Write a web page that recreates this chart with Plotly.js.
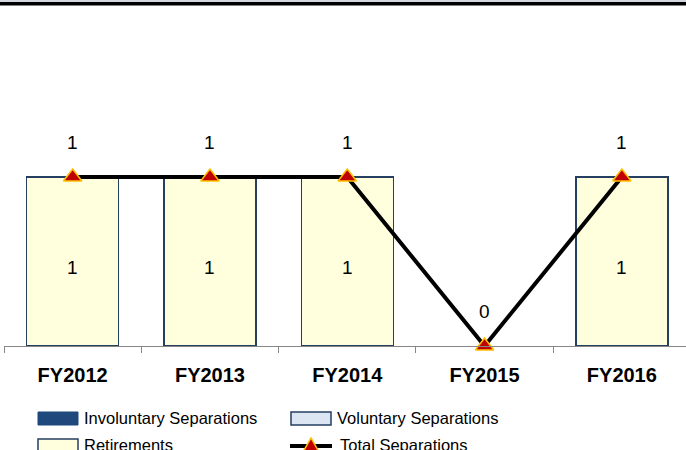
<!DOCTYPE html>
<html>
<head>
<meta charset="utf-8">
<script src="https://cdn.plot.ly/plotly-3.0.1.min.js"></script>
<style>html,body{margin:0;padding:0;background:#fff;}#chart{width:686px;height:450px;}</style>
</head>
<body>
<div id="chart"></div>
<script>
// ---- data ----
var categories = ["FY2012", "FY2013", "FY2014", "FY2015", "FY2016"];
var involuntary = [0, 0, 0, 0, 0];
var voluntary = [0, 0, 0, 0, 0];
var retirements = [1, 1, 1, 0, 1];
var totals = [1, 1, 1, 0, 1];
var seriesNames = ["Involuntary Separations", "Voluntary Separations", "Retirements", "Total Separations"];

// ---- geometry helpers (pixel -> paper) ----
var W = 686, H = 450;
var mL = 4, mR = 0, mT = 143, mB = 104;
var pw = W - mL - mR, ph = H - mT - mB;
function px(x) { return (x - mL) / pw; }
function py(y) { return (H - mB - y) / ph; }

var edge = "#243F60";
function edgeWidths(vals) { return vals.map(function (v) { return v > 0 ? 1.5 : 0; }); }
var traces = [
  {type: "bar", name: seriesNames[0], x: categories, y: involuntary,
   marker: {color: "#1F497D", line: {color: edge, width: edgeWidths(involuntary)}}, width: 0.67, hoverinfo: "y"},
  {type: "bar", name: seriesNames[1], x: categories, y: voluntary,
   marker: {color: "#DCE6F2", line: {color: edge, width: edgeWidths(voluntary)}}, width: 0.67, hoverinfo: "y"},
  {type: "bar", name: seriesNames[2], x: categories, y: retirements,
   marker: {color: "#FFFFDD", line: {color: edge, width: edgeWidths(retirements)}}, width: 0.67, hoverinfo: "y"},
  {type: "scatter", mode: "lines+markers", name: seriesNames[3], x: categories, y: totals,
   line: {color: "#000000", width: 4},
   marker: {symbol: "triangle-up", size: 16, color: "#C00000", line: {color: "#FFC000", width: 1.5}},
   cliponaxis: false}
];

var lblFont = {family: "Liberation Sans, Arial, sans-serif", size: 19, color: "#000"};
var annotations = [];
categories.forEach(function (c, i) {
  annotations.push({x: c, y: totals[i], xref: "x", yref: "y", text: String(totals[i]),
    showarrow: false, yshift: 35, font: lblFont});
  if (retirements[i] > 0) {
    annotations.push({x: c, y: involuntary[i] + voluntary[i] + retirements[i] / 2, xref: "x", yref: "y",
      text: String(retirements[i]), showarrow: false, yshift: -6, font: lblFont});
  }
});

// manual legend
var legFont = {family: "Liberation Sans, Arial, sans-serif", size: 16.5, color: "#000"};
var shapes = [
  {type: "rect", xref: "paper", yref: "paper", x0: px(0), x1: px(W), y0: py(0), y1: py(2), fillcolor: "#D3D6DE", line: {width: 0}},
  {type: "rect", xref: "paper", yref: "paper", x0: px(0), x1: px(W), y0: py(2), y1: py(5.5), fillcolor: "#000", line: {width: 0}},
  {type: "rect", xref: "paper", yref: "paper", x0: px(38), x1: px(78), y0: py(425), y1: py(412), fillcolor: "#1F497D", line: {color: "#1F497D", width: 1}},
  {type: "rect", xref: "paper", yref: "paper", x0: px(291), x1: px(331), y0: py(425), y1: py(412), fillcolor: "#DCE6F2", line: {color: edge, width: 1.5}},
  {type: "rect", xref: "paper", yref: "paper", x0: px(38), x1: px(78), y0: py(452), y1: py(439), fillcolor: "#FFFFDD", line: {color: edge, width: 1.5}},
  {type: "line", xref: "paper", yref: "paper", x0: px(290), x1: px(332), y0: py(446), y1: py(446), line: {color: "#000", width: 4}},
  {type: "path", xref: "paper", yref: "paper",
   path: "M " + px(303) + " " + py(452) + " L " + px(319) + " " + py(452) + " L " + px(311) + " " + py(438) + " Z",
   fillcolor: "#C00000", line: {color: "#FFC000", width: 1.5}}
];
annotations.push({xref: "paper", yref: "paper", x: px(82), y: py(418), xanchor: "left", yanchor: "middle", text: seriesNames[0], showarrow: false, font: legFont});
annotations.push({xref: "paper", yref: "paper", x: px(335), y: py(418), xanchor: "left", yanchor: "middle", text: seriesNames[1], showarrow: false, font: legFont});
annotations.push({xref: "paper", yref: "paper", x: px(82), y: py(445), xanchor: "left", yanchor: "middle", text: seriesNames[2], showarrow: false, font: legFont});
annotations.push({xref: "paper", yref: "paper", x: px(338), y: py(445), xanchor: "left", yanchor: "middle", text: seriesNames[3], showarrow: false, font: legFont});

var layout = {
  width: W, height: H,
  margin: {l: mL, r: mR, t: mT, b: mB, pad: 0},
  paper_bgcolor: "#fff", plot_bgcolor: "#fff",
  barmode: "stack",
  showlegend: false,
  xaxis: {type: "category", range: [-0.5, -0.5 + pw / 137.3], showline: true, linecolor: "#868686", linewidth: 1,
    ticks: "outside", tickson: "boundaries", ticklen: 6, tickcolor: "#868686", showgrid: false, zeroline: false,
    tickfont: {family: "Liberation Sans, Arial, sans-serif", size: 20, color: "#000", weight: "bold"},
    ticklabelstandoff: 11, fixedrange: true},
  yaxis: {range: [0, 203 / 169], visible: false, showgrid: false, zeroline: false, fixedrange: true},
  annotations: annotations,
  shapes: shapes
};

Plotly.newPlot("chart", traces, layout, {staticPlot: true, displayModeBar: false});
</script>
</body>
</html>
